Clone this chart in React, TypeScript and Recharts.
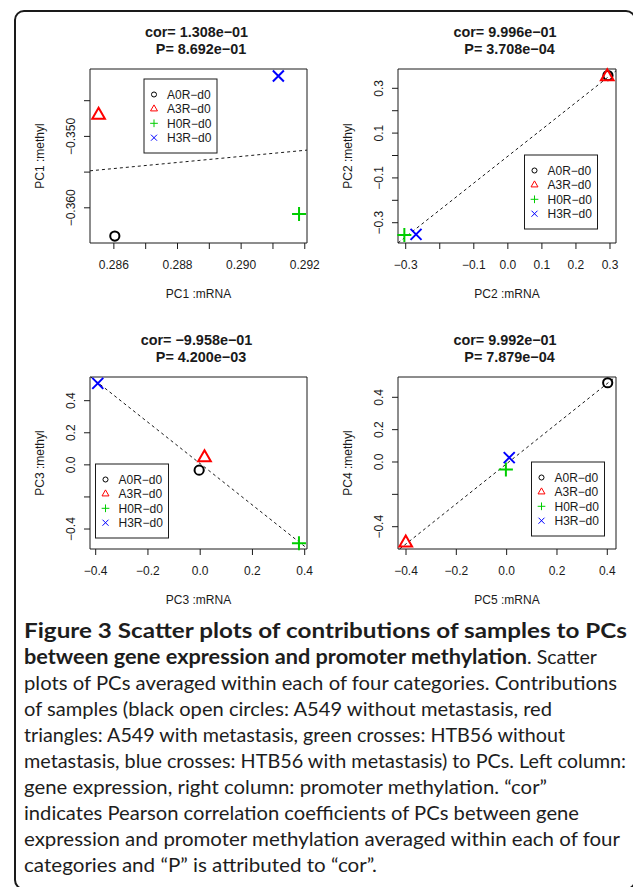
import React from 'react';
import { ScatterChart, Scatter, XAxis, YAxis, ReferenceLine, ReferenceArea } from 'recharts';

// sample groups (order used by every series array below)
const groups = ['A0R−d0', 'A3R−d0', 'H0R−d0', 'H3R−d0'];
const groupColors = ['#000000', '#ff0000', '#00cd00', '#0000ff'];
const groupShapes = ['circle', 'triangle', 'plus', 'cross'];

// PC1
const pc1mRNA = [0.28603, 0.28552, 0.29182, 0.29117];
const pc1Methyl = [-0.36396, -0.347, -0.36088, -0.34154];
const pc1Fit = [
  { x: 0.28525, y: -0.35482 },
  { x: 0.29207, y: -0.35192 },
];
const pc1XTicks = [0.286, 0.287, 0.288, 0.289, 0.29, 0.291, 0.292];
const pc1XLabels = ['0.286', '', '0.288', '', '0.290', '', '0.292'];
const pc1YTicks = [-0.345, -0.35, -0.355, -0.36];
const pc1YLabels = ['', '−0.350', '', '−0.360'];

// PC2
const pc2mRNA = [0.294, 0.292, -0.304, -0.2697];
const pc2Methyl = [0.357, 0.352, -0.355, -0.352];
const pc2Fit = [
  { x: -0.32265, y: -0.3903 },
  { x: 0.31765, y: 0.3781 },
];
const pc2XTicks = [-0.3, -0.2, -0.1, 0, 0.1, 0.2, 0.3];
const pc2XLabels = ['−0.3', '', '−0.1', '0.0', '0.1', '0.2', '0.3'];
const pc2YTicks = [-0.3, -0.2, -0.1, 0, 0.1, 0.2, 0.3];
const pc2YLabels = ['−0.3', '', '−0.1', '', '0.1', '', '0.3'];

// PC3
const pc3mRNA = [-0.004, 0.0165, 0.378, -0.392];
const pc3Methyl = [-0.033, 0.045, -0.489, 0.508];
const pc3Fit = [
  { x: -0.4188, y: 0.5476 },
  { x: 0.4088, y: -0.52 },
];
const pc3XTicks = [-0.4, -0.2, 0, 0.2, 0.4];
const pc3XLabels = ['−0.4', '−0.2', '0.0', '0.2', '0.4'];
const pc3YTicks = [-0.4, -0.2, 0, 0.2, 0.4];
const pc3YLabels = ['−0.4', '', '0.0', '0.2', '0.4'];

// PC5 (mRNA) vs PC4 (methyl)
const pc5mRNA = [0.4016, -0.401, -0.003, 0.0103];
const pc4Methyl = [0.49, -0.5, -0.047, 0.027];
const pc4Fit = [
  { x: -0.4253, y: -0.5379 },
  { x: 0.4322, y: 0.5255 },
];
const pc4XTicks = [-0.4, -0.2, 0, 0.2, 0.4];
const pc4XLabels = ['−0.4', '−0.2', '0.0', '0.2', '0.4'];
const pc4YTicks = [-0.4, -0.2, 0, 0.2, 0.4];
const pc4YLabels = ['−0.4', '', '0.0', '0.2', '0.4'];

const corTitles = ['cor= 1.308e−01', 'cor= 9.996e−01', 'cor= −9.958e−01', 'cor= 9.992e−01'];
const pTitles = ['P= 8.692e−01', 'P= 3.708e−04', 'P= 4.200e−03', 'P= 7.879e−04'];
const xNames = ['PC1 :mRNA', 'PC2 :mRNA', 'PC3 :mRNA', 'PC5 :mRNA'];
const yNames = ['PC1 :methyl', 'PC2 :methyl', 'PC3 :methyl', 'PC4 :methyl'];

const captionBold1 = 'Figure 3 Scatter plots of contributions of samples to PCs';
const captionBold2 = 'between gene expression and promoter methylation';
const captionTail2 = '. Scatter';
const captionLines = [
  'plots of PCs averaged within each of four categories. Contributions',
  'of samples (black open circles: A549 without metastasis, red',
  'triangles: A549 with metastasis, green crosses: HTB56 without',
  'metastasis, blue crosses: HTB56 with metastasis) to PCs. Left column:',
  'gene expression, right column: promoter methylation. “cor”',
  'indicates Pearson correlation coefficients of PCs between gene',
  'expression and promoter methylation averaged within each of four',
  'categories and “P” is attributed to “cor”.',
];
// right ends of caption lines (page px)
const captionEnds = [627, 597, 617, 552, 565, 626, 547, 579, 620, 377];
const boldEnd2 = 527;

const FONT = '"Liberation Sans", Arial, Helvetica, sans-serif';
const INK = '#1a1a1a';
const CAP_X = 24;
const CAP_Y = 638;
const CAP_LH = 26;

const panels = [
  { xs: pc1mRNA, ys: pc1Methyl, fit: pc1Fit, xd: [0.28525, 0.29207], yd: [-0.36493, -0.34056], xt: pc1XTicks, xl: pc1XLabels, yt: pc1YTicks, yl: pc1YLabels },
  { xs: pc2mRNA, ys: pc2Methyl, fit: pc2Fit, xd: [-0.32265, 0.31765], yd: [-0.3906, 0.3862], xt: pc2XTicks, xl: pc2XLabels, yt: pc2YTicks, yl: pc2YLabels },
  { xs: pc3mRNA, ys: pc3Methyl, fit: pc3Fit, xd: [-0.4218, 0.4088], yd: [-0.5245, 0.5476], xt: pc3XTicks, xl: pc3XLabels, yt: pc3YTicks, yl: pc3YLabels },
  { xs: pc5mRNA, ys: pc4Methyl, fit: pc4Fit, xd: [-0.4318, 0.4346], yd: [-0.5379, 0.5255], xt: pc4XTicks, xl: pc4XLabels, yt: pc4YTicks, yl: pc4YLabels },
];

// layout: chart box on the page and plot region inside it
const layout = [
  { left: 0, top: 0, w: 335, h: 305, L: 90, R: 307, T: 69, B: 243, lg: [144, 79] },
  { left: 316, top: 0, w: 317, h: 305, L: 398, R: 616, T: 69, B: 243, lg: [524.5, 155] },
  { left: 0, top: 305, w: 335, h: 305, L: 90, R: 307, T: 377, B: 549, lg: [95.5, 464] },
  { left: 316, top: 305, w: 317, h: 305, L: 398, R: 616, T: 377, B: 549, lg: [531.5, 462] },
];

const Y_W = 60;
const X_H = 30;

const Marker = ({ cx, cy, kind, color, s = 1, sw = 2 }: any) => {
  const common = { fill: 'none', stroke: color, strokeWidth: sw };
  if (kind === 'circle') return <circle cx={cx} cy={cy} r={4.6 * s} {...common} />;
  if (kind === 'triangle') {
    const r = 7.3 * s;
    const xc = r * 0.866;
    return <polygon points={`${cx},${cy - r} ${cx + xc},${cy + r / 2} ${cx - xc},${cy + r / 2}`} {...common} />;
  }
  if (kind === 'plus') {
    const h = 7 * s;
    return <path d={`M${cx - h},${cy}H${cx + h}M${cx},${cy - h}V${cy + h}`} {...common} />;
  }
  const h = 5.5 * s;
  return <path d={`M${cx - h},${cy - h}L${cx + h},${cy + h}M${cx - h},${cy + h}L${cx + h},${cy - h}`} {...common} />;
};

const pickLabel = (ticks: number[], labels: string[], v: number) => {
  const i = ticks.findIndex((t) => Math.abs(t - v) < 1e-9);
  return i >= 0 ? labels[i] : '';
};

const XTick = ({ x, y, payload, ticks, labels }: any) => {
  const label = pickLabel(ticks, labels, payload.value);
  if (!label) return null;
  return (
    <text x={x} y={y + 20.3} textAnchor="middle" fontSize={12} fontFamily={FONT} fill={INK}>
      {label}
    </text>
  );
};

const YTick = ({ x, y, payload, ticks, labels }: any) => {
  const label = pickLabel(ticks, labels, payload.value);
  if (!label) return null;
  const bx = x - 8.7;
  return (
    <text x={bx} y={y} transform={`rotate(-90 ${bx} ${y})`} textAnchor="middle" fontSize={12} fontFamily={FONT} fill={INK}>
      {label}
    </text>
  );
};

const Panel = ({ idx }: { idx: number }) => {
  const p = panels[idx];
  const g = layout[idx];
  const margin = {
    top: g.T - g.top,
    bottom: g.top + g.h - g.B - X_H,
    left: g.L - g.left - Y_W,
    right: g.left + g.w - g.R,
  };
  return (
    <div style={{ position: 'absolute', left: g.left, top: g.top }}>
      <ScatterChart width={g.w} height={g.h} margin={margin}>
        <XAxis
          type="number"
          dataKey="x"
          domain={p.xd}
          ticks={p.xt}
          interval={0}
          height={X_H}
          tickSize={6}
          tickMargin={0}
          axisLine={false}
          tickLine={{ stroke: INK }}
          tick={<XTick ticks={p.xt} labels={p.xl} />}
        />
        <YAxis
          type="number"
          dataKey="y"
          domain={p.yd}
          ticks={p.yt}
          interval={0}
          width={Y_W}
          tickSize={6}
          tickMargin={0}
          axisLine={false}
          tickLine={{ stroke: INK }}
          tick={<YTick ticks={p.yt} labels={p.yl} />}
        />
        <ReferenceArea
          x1={p.xd[0]}
          x2={p.xd[1]}
          y1={p.yd[0]}
          y2={p.yd[1]}
          fill="none"
          fillOpacity={0}
          stroke={INK}
          strokeWidth={1}
          strokeOpacity={1}
          ifOverflow="visible"
        />
        <ReferenceLine segment={p.fit} stroke={INK} strokeDasharray="3 3" strokeWidth={1} ifOverflow="visible" />
        {groups.map((name, i) => (
          <Scatter
            key={name}
            name={name}
            data={[{ x: p.xs[i], y: p.ys[i] }]}
            isAnimationActive={false}
            shape={(sp: any) => <Marker cx={sp.cx} cy={sp.cy} kind={groupShapes[i]} color={groupColors[i]} />}
          />
        ))}
      </ScatterChart>
    </div>
  );
};

const Overlay = () => (
  <svg width={633} height={887} style={{ position: 'absolute', left: 0, top: 0, pointerEvents: 'none' }}>
    {layout.map((g, i) => {
      const cx = (g.L + g.R) / 2;
      const cy = (g.T + g.B) / 2;
      const yx = g.L - 45.7;
      return (
        <g key={i} fontFamily={FONT} fill={INK}>
          <text x={cx - 2} y={g.T - 31.8} textAnchor="middle" fontSize={14.4} fontWeight="bold">
            {corTitles[i]}
          </text>
          <text x={cx + 2.5} y={g.T - 14.8} textAnchor="middle" fontSize={14.4} fontWeight="bold">
            {pTitles[i]}
          </text>
          <text x={cx} y={g.B + 55} textAnchor="middle" fontSize={12}>
            {xNames[i]}
          </text>
          <text x={yx} y={cy} transform={`rotate(-90 ${yx} ${cy})`} textAnchor="middle" fontSize={12}>
            {yNames[i]}
          </text>
          <rect x={g.lg[0]} y={g.lg[1]} width={73} height={74} fill="#fff" stroke={INK} strokeWidth={1} />
          {groups.map((name, k) => {
            const iy = g.lg[1] + 15.5 + k * 14.4;
            return (
              <g key={name}>
                <Marker cx={g.lg[0] + 10} cy={iy} kind={groupShapes[k]} color={groupColors[k]} s={0.55} sw={1} />
                <text x={g.lg[0] + 23} y={iy + 4.3} fontSize={12}>
                  {name}
                </text>
              </g>
            );
          })}
        </g>
      );
    })}
    <g fontFamily="Lato, 'Open Sans', sans-serif" fontSize={20} fill="#1d1d1d">
      <text x={CAP_X} y={CAP_Y} fontWeight="bold" textLength={captionEnds[0] - CAP_X} lengthAdjust="spacingAndGlyphs">
        {captionBold1}
      </text>
      <text x={CAP_X} y={CAP_Y + CAP_LH} fontWeight="bold" textLength={boldEnd2 - CAP_X} lengthAdjust="spacingAndGlyphs">
        {captionBold2}
      </text>
      <text x={boldEnd2} y={CAP_Y + CAP_LH} textLength={captionEnds[1] - boldEnd2} lengthAdjust="spacingAndGlyphs">
        {captionTail2}
      </text>
      {captionLines.map((line, i) => (
        <text
          key={i}
          x={CAP_X}
          y={CAP_Y + (i + 2) * CAP_LH}
          textLength={captionEnds[i + 2] - CAP_X}
          lengthAdjust="spacingAndGlyphs"
        >
          {line}
        </text>
      ))}
    </g>
  </svg>
);

export default function App() {
  return (
    <div style={{ position: 'absolute', left: 0, top: 0, width: 633, height: 887, overflow: 'hidden', background: '#fff' }}>
      <div
        style={{
          position: 'absolute',
          left: 14,
          top: 10,
          width: 622,
          height: 880,
          border: '2px solid #1a1a1a',
          borderRadius: 10,
          boxSizing: 'border-box',
        }}
      />
      {[0, 1, 2, 3].map((i) => (
        <Panel key={i} idx={i} />
      ))}
      <Overlay />
    </div>
  );
}
